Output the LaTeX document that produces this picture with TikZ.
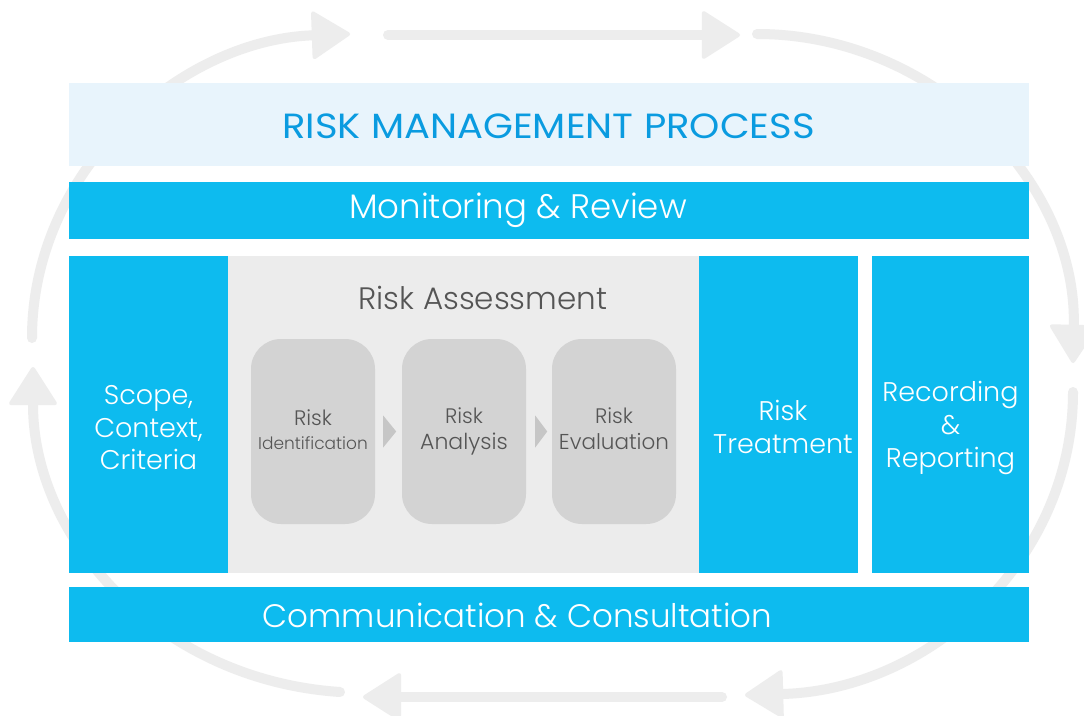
\documentclass[tikz,border=0pt]{standalone}
\usepackage{fontspec}
\setmainfont{Poppins Light}
\newfontfamily\regfont{Poppins}
\usetikzlibrary{arrows.meta}
\definecolor{cyanbox}{HTML}{0DBBEF}
\definecolor{titlebg}{HTML}{E8F4FC}
\definecolor{titletxt}{HTML}{0A9BE0}
\definecolor{assessbg}{HTML}{ECECEC}
\definecolor{stepbg}{HTML}{D3D3D3}
\definecolor{cyclegray}{HTML}{EDEDED}
\definecolor{steptxt}{HTML}{555555}
\definecolor{tricol}{HTML}{C6C6C6}
\begin{document}
\begin{tikzpicture}[x=1pt,y=-1pt,
  cyc/.style={draw=cyclegray,line width=10pt,line cap=round,
    -{Triangle[width=50pt,length=40pt,round,line width=4pt]}},
  bluebox/.style={fill=cyanbox,inner sep=0pt},
  bluetext/.style={text=white,inner sep=0pt,align=center},
  stepbox/.style={fill=stepbg,rounded corners=30pt,inner sep=0pt,
    minimum width=124pt,minimum height=185pt},
  steplabel/.style={text=steptxt,inner sep=0pt,anchor=base},
  tristyle/.style={fill=tricol}
]
\useasboundingbox (0,0) rectangle (1084,715);
\fill[white] (0,0) rectangle (1084,715);
% cycle coordinates
\coordinate (a1) at (32,338);
\coordinate (a2) at (350,34);
\coordinate (b1) at (388,35);
\coordinate (b2) at (740,35);
\coordinate (c1) at (757,34);
\coordinate (c2) at (1073,363);
\coordinate (d1) at (1073,392);
\coordinate (d2) at (745,695);
\coordinate (e1) at (722,697);
\coordinate (e2) at (363,697);
\coordinate (f1) at (340,692);
\coordinate (f2) at (33,367);
\draw[cyc] (a1) .. controls (32,170) and (180,40) .. (a2);
\draw[cyc] (b1) -- (b2);
\draw[cyc] (c1) .. controls (933,34) and (1077,180) .. (c2);
\draw[cyc] (d1) .. controls (1073,560) and (930,690) .. (d2);
\draw[cyc] (e1) -- (e2);
\draw[cyc] (f1) .. controls (160,680) and (33,540) .. (f2);
% title
\node[fill=titlebg,minimum width=960pt,minimum height=83pt,inner sep=0pt] (title) at (549,124.5) {};
\node[text=titletxt,inner sep=0pt,font=\regfont\fontsize{35}{40}\selectfont] (titletext) at (548.5,126)
  {\scalebox{1.1}[1]{RISK MANAGEMENT PROCESS}};
% monitoring
\node[bluebox,minimum width=960pt,minimum height=57pt] (monitor) at (549,210.5) {};
\node[bluetext,font=\fontsize{34}{38}\selectfont] (monitortext) at (518,210) {Monitoring \& Review};
% scope
\node[bluebox,minimum width=159pt,minimum height=317pt] (scope) at (148.5,414.5) {};
\node[bluetext,font=\fontsize{27}{32.5}\selectfont] (scopetext) at (148.5,428) {Scope,\\Context,\\Criteria};
% assessment
\node[fill=assessbg,minimum width=471pt,minimum height=317pt,inner sep=0pt]
  (assess) at (463.5,414.5) {};
\node[text=steptxt,font=\fontsize{31}{34}\selectfont,inner sep=0pt] (assesstitle) at (483,298) {Risk Assessment};
\node[stepbox] (ident) at (313,431.5) {};
\node[stepbox] (analysis) at (464,431.5) {};
\node[stepbox] (evaluation) at (614,431.5) {};
\node[steplabel,font=\fontsize{21}{24}\selectfont] (identa) at (313,425) {Risk};
\node[steplabel,font=\fontsize{17}{20}\selectfont] (identb) at (313,449) {Identification};
\node[steplabel,font=\fontsize{21}{24}\selectfont] (analysisa) at (464,423) {Risk};
\node[steplabel,font=\fontsize{22}{24}\selectfont] (analysisb) at (464,449) {Analysis};
\node[steplabel,font=\fontsize{21}{24}\selectfont] (evala) at (614,423) {Risk};
\node[steplabel,font=\fontsize{21.5}{24}\selectfont] (evalb) at (614,449) {Evaluation};
\fill[tristyle] ([xshift=8pt,yshift=16pt]ident.east) -- ([xshift=21pt]ident.east) -- ([xshift=8pt,yshift=-16pt]ident.east) -- cycle;
\fill[tristyle] ([xshift=9pt,yshift=16pt]analysis.east) -- ([xshift=21pt]analysis.east) -- ([xshift=9pt,yshift=-16pt]analysis.east) -- cycle;
% treatment
\node[bluebox,minimum width=159pt,minimum height=317pt] (treat) at (778.5,414.5) {};
\node[bluetext,font=\fontsize{27}{32.5}\selectfont] (treattext) at (783,427) {Risk\\Treatment};
% recording
\node[bluebox,minimum width=157pt,minimum height=317pt] (record) at (950.5,414.5) {};
\node[bluetext,font=\fontsize{27}{33}\selectfont] (recordtext) at (950.5,428) {Recording\\\&\\Reporting};
% communication
\node[bluebox,minimum width=960pt,minimum height=55pt] (comm) at (549,614.5) {};
\node[bluetext,font=\fontsize{32.5}{36}\selectfont] (commtext) at (517.5,615) {Communication \& Consultation};
\end{tikzpicture}
\end{document}
